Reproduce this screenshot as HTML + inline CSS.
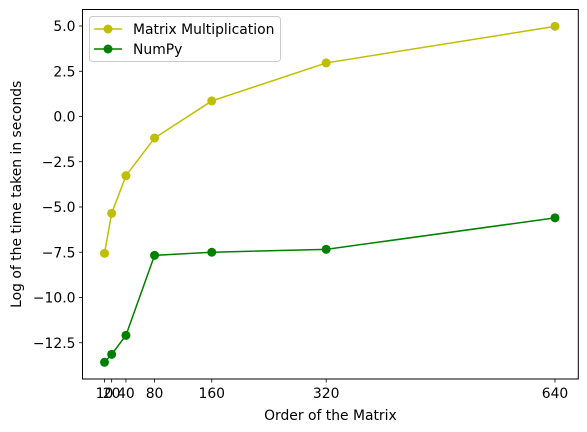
<!DOCTYPE html>
<html><head><meta charset="utf-8"><style>
html,body{margin:0;padding:0;background:#fff;}
svg{display:block;font-family:"DejaVu Sans","Liberation Sans",sans-serif;}
</style></head><body>
<svg id="chart" width="587" height="432" viewBox="0 0 587 432" xmlns="http://www.w3.org/2000/svg"></svg>
<script>
const categories = [10, 20, 40, 80, 160, 320, 640];
const matmulValues = [-7.56, -5.35, -3.27, -1.19, 0.86, 2.96, 4.98];
const numpyValues = [-13.58, -13.14, -12.09, -7.67, -7.50, -7.34, -5.60];
const xTickLabels = ["10", "20", "40", "80", "160", "320", "640"];
const yTicks = [5.0, 2.5, 0.0, -2.5, -5.0, -7.5, -10.0, -12.5];

const L = 82.5, R = 578.3, T = 9.5, B = 379;
const FS = '13.9';
function xs(v){ return 104.5 + (v - 10) * (450.5 / 630); }
function ys(v){ return 116.5 - v * 18.1; }
const NS = "http://www.w3.org/2000/svg";
const svg = document.getElementById('chart');
function mk(tag, attrs, parent){ const e = document.createElementNS(NS, tag); for (const k in attrs) e.setAttribute(k, attrs[k]); (parent||svg).appendChild(e); return e; }

const frame = mk('rect', {x:L, y:T, width:R-L, height:B-T, fill:'none', stroke:'#000', 'stroke-width':1});



const xAxis = mk('g', {});


categories.forEach((c, i) => {
  mk('line', {x1:xs(c), x2:xs(c), y1:B, y2:B+3.5, stroke:'#000', 'stroke-width':0.8}, xAxis);
  const t = mk('text', {x:xs(c), y:B+19, 'text-anchor':'middle', 'font-size':FS, fill:'#000'}, xAxis);
  t.textContent = xTickLabels[i];
  
  
});
const yAxis = mk('g', {});


yTicks.forEach(v => {
  mk('line', {x1:L-3.5, x2:L, y1:ys(v), y2:ys(v), stroke:'#000', 'stroke-width':0.8}, yAxis);
  const t = mk('text', {x:L-7, y:ys(v)+5, 'text-anchor':'end', 'font-size':FS, fill:'#000'}, yAxis);
  t.textContent = (v < 0 ? '\u2212' : '') + Math.abs(v).toFixed(1);
  
  
});
const xt = mk('text', {x:(L+R)/2, y:420, 'text-anchor':'middle', 'font-size':FS, fill:'#000'});
xt.textContent = 'Order of the Matrix';


const yt = mk('text', {x:0, y:0, 'text-anchor':'middle', 'font-size':FS, fill:'#000', transform:`translate(21,${(T+B)/2}) rotate(-90)`});
yt.textContent = 'Log of the time taken in seconds';



function series(vals, color, name){
  const g = mk('g', {});
  
  
  mk('polyline', {points: vals.map((v,i)=>xs(categories[i])+','+ys(v)).join(' '), fill:'none', stroke:color, 'stroke-width':1.5}, g);
  vals.forEach((v,i) => {
    const c = mk('circle', {cx:xs(categories[i]), cy:ys(v), r:4.5, fill:color}, g);
    
    
  });
}
series(matmulValues, '#bfbf00', 'matrix-multiplication-series');
series(numpyValues, '#008000', 'numpy-series');

const lg = mk('g', {});


mk('rect', {x:89.5, y:16.5, width:191, height:45, rx:3, fill:'#fff', 'fill-opacity':0.8, stroke:'#ccc', 'stroke-width':1}, lg);
[['Matrix Multiplication','#bfbf00',29],['NumPy','#008000',49]].forEach(([lab,col,y]) => {
  const e = mk('g', {}, lg);
  
  
  mk('line', {x1:94, x2:122, y1:y, y2:y, stroke:col, 'stroke-width':1.5}, e);
  mk('circle', {cx:108, cy:y, r:4.5, fill:col}, e);
  const t = mk('text', {x:133, y:y+5, 'font-size':FS, fill:'#000'}, e);
  t.textContent = lab;
});
</script>
</body></html>
